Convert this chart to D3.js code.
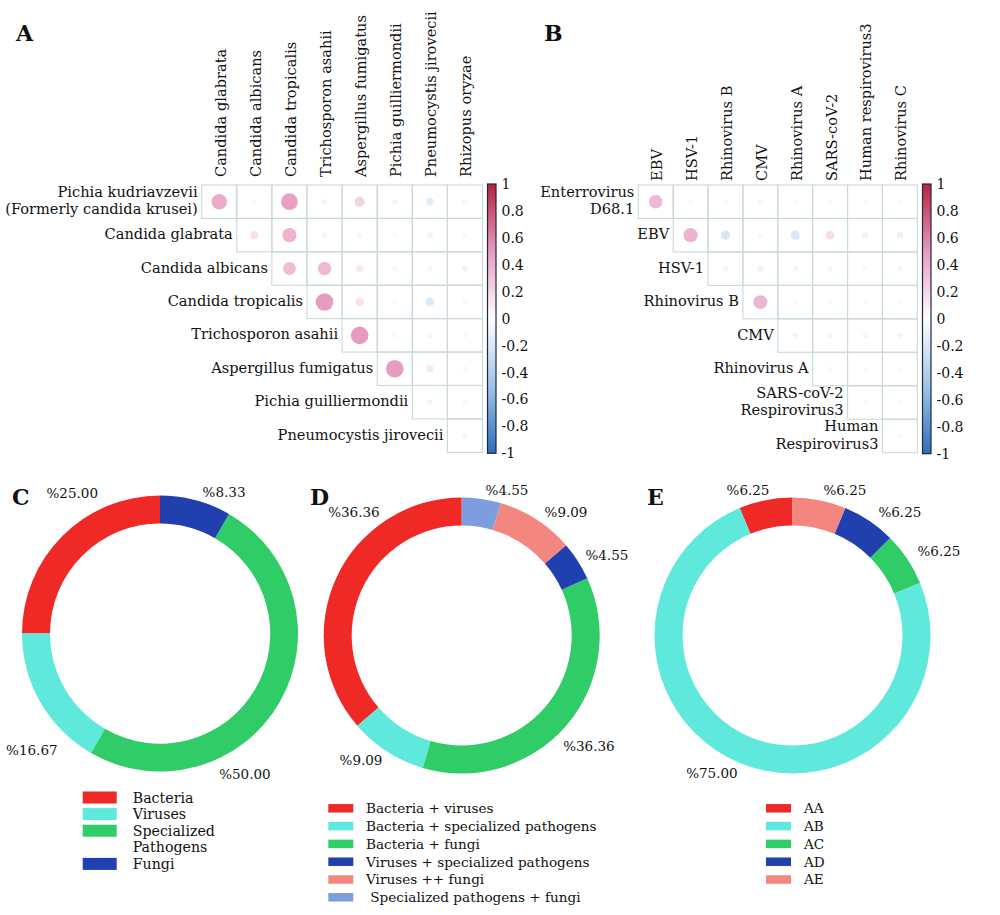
<!DOCTYPE html>
<html><head><meta charset="utf-8">
<script src="https://cdn.jsdelivr.net/npm/d3@7"></script>
<style>
body{margin:0;background:#fff}
svg{display:block}
text{font-family:"DejaVu Serif",serif;fill:#111}
</style>
</head><body>
<svg id="chart" width="1000" height="915"></svg>
<script>
// ---------------- DATA ----------------
const fungiRows = ["Pichia kudriavzevii\n(Formerly candida krusei)","Candida glabrata","Candida albicans","Candida tropicalis","Trichosporon asahii","Aspergillus fumigatus","Pichia guilliermondii","Pneumocystis jirovecii"];
const fungiCols = ["Candida glabrata","Candida albicans","Candida tropicalis","Trichosporon asahii","Aspergillus fumigatus","Pichia guilliermondii","Pneumocystis jirovecii","Rhizopus oryzae"];
// row i holds the values for columns i..7
const fungiCorr = [
  [0.42, 0.05, 0.47, 0.07, 0.22, 0.06, -0.15, 0.06],
  [0.16, 0.38, 0.06, 0.06, 0.05, -0.09, 0.05],
  [0.33, 0.35, 0.12, -0.07, 0.06, -0.09],
  [0.50, 0.16, 0.05, -0.18, 0.05],
  [0.50, 0.05, 0.06, 0.05],
  [0.50, 0.12, 0.05],
  [0.07, 0.05],
  [0.06]
];
const virusRows = ["Enterrovirus\nD68.1","EBV","HSV-1","Rhinovirus B","CMV","Rhinovirus A","SARS-coV-2\nRespirovirus3","Human\nRespirovirus3"];
const virusCols = ["EBV","HSV-1","Rhinovirus B","CMV","Rhinovirus A","SARS-coV-2","Human respirovirus3","Rhinovirus C"];
const virusCorr = [
  [0.36, 0.05, 0.04, 0.06, 0.04, 0.04, 0.04, 0.04],
  [0.38, -0.2, 0.05, -0.2, 0.18, -0.1, -0.1],
  [0.06, 0.09, 0.06, 0.06, 0.05, 0.06],
  [0.37, 0.05, 0.04, 0.04, 0.04],
  [0.07, 0.07, 0.06, 0.07],
  [0.05, 0.04, 0.04],
  [0.04, 0.04],
  [0.04]
];
const colorbarTicks = [1, 0.8, 0.6, 0.4, 0.2, 0, -0.2, -0.4, -0.6, -0.8, -1];

const groupLabels = ["Bacteria","Viruses","Specialized\nPathogens","Fungi"];
const groupValues = [25.00, 16.67, 50.00, 8.33];
const comboLabels = ["Bacteria + viruses","Bacteria + specialized pathogens","Bacteria + fungi","Viruses + specialized pathogens","Viruses ++ fungi"," Specialized pathogens + fungi"];
const comboValues = [36.36, 9.09, 36.36, 4.55, 9.09, 4.55];
const patternLabels = ["AA","AB","AC","AD","AE"];
const patternValues = [6.25, 75.00, 6.25, 6.25, 6.25];

// ---------------- STYLE / LAYOUT ----------------
const RED="#ef2a26", CYAN="#5fe8dc", GREEN="#30cc67", BLUE="#1f40ae", SALMON="#f3877f", LBLUE="#7e9ddf";
const corrColor = d3.scaleLinear().domain([-1,-0.5,0,0.5,1])
  .range(["#2f6cbd","#9fc4e6","#ffffff","#e79bc0","#b9223f"]);
const svg = d3.select("#chart");

function corrPanel(o){
  const g = svg.append("g");
  const x = d3.scaleBand().domain(o.cols).range(o.xr);
  const y = d3.scaleBand().domain(o.rows).range(o.yr);
  const r = d3.scaleLinear().domain([0,1]).range([1.8, 15.8]);
  const cells = [];
  o.values.forEach((row,i)=>row.forEach((v,k)=>cells.push({ri:i, ci:i+k, v})));
  g.selectAll("rect.cell").data(cells).join("rect")
    .attr("x", d=>x(o.cols[d.ci])).attr("y", d=>y(o.rows[d.ri]))
    .attr("width", x.bandwidth()).attr("height", y.bandwidth())
    .attr("fill","none").attr("stroke","#c9d9d8").attr("stroke-width",1.1);
  g.selectAll("circle").data(cells).join("circle")
    .attr("cx", d=>x(o.cols[d.ci])+x.bandwidth()/2)
    .attr("cy", d=>y(o.rows[d.ri])+y.bandwidth()/2)
    .attr("r", d=>r(Math.abs(d.v)))
    .attr("fill", d=>corrColor(d.v));
  // column labels
  g.selectAll("text.col").data(o.cols).join("text")
    .attr("transform", d=>`translate(${x(d)+x.bandwidth()/2+1},${o.colY}) rotate(-90)`)
    .attr("dominant-baseline","central").attr("font-size",14.6).text(d=>d);
  // row labels
  o.rows.forEach((lab,i)=>{
    const lines = lab.split("\n");
    const t = g.append("text").attr("text-anchor","end").attr("font-size",14.6)
      .attr("x", x(o.cols[i]) - 4)
      .attr("y", y(lab)+y.bandwidth()/2 - (lines.length-1)*17.5/2 - 2)
      .attr("dominant-baseline","central");
    lines.forEach((ln,j)=>t.append("tspan").attr("x", x(o.cols[i]) - 4).attr("dy", j?17.5:0).text(ln));
  });
  // colorbar
  const cb = d3.scaleLinear().domain([-1,1]).range([o.yr[1]+1, o.yr[0]-1]);
  const gid = "grad"+o.id;
  const grad = svg.append("defs").append("linearGradient").attr("id",gid)
    .attr("x1",0).attr("y1",1).attr("x2",0).attr("y2",0);
  d3.range(-1,1.001,0.1).forEach(v=>grad.append("stop")
    .attr("offset", (v+1)/2).attr("stop-color", corrColor(v)));
  g.append("rect").attr("x",o.cbx).attr("y",cb(1)).attr("width",8.5).attr("height",cb(-1)-cb(1))
    .attr("fill",`url(#${gid})`).attr("stroke","#1c2b3c").attr("stroke-width",1.2);
  g.selectAll("text.tick").data(colorbarTicks).join("text")
    .attr("x",o.cbx+14).attr("y",d=>cb(d)).attr("dominant-baseline","central")
    .attr("font-size",14).text(d=>d);
  g.append("text").attr("x",o.letter[0]).attr("y",o.letter[1]).attr("font-size",22)
    .attr("font-weight","bold").attr("font-family","Liberation Serif, serif").text(o.id);
}

corrPanel({id:"A", rows:fungiRows, cols:fungiCols, values:fungiCorr,
  xr:[201.7,482.5], yr:[185,452.3], colY:177, cbx:487.5, letter:[16,41]});
corrPanel({id:"B", rows:virusRows, cols:virusCols, values:virusCorr,
  xr:[638.3,917.3], yr:[185,452.7], colY:181, cbx:922.5, letter:[544,41]});

function donut(o){
  const g = svg.append("g").attr("transform",`translate(${o.c[0]},${o.c[1]})`);
  const pie = d3.pie().sort(null).startAngle(0).endAngle(-2*Math.PI);
  const arcs = pie(o.values);
  const arc = d3.arc().innerRadius(110).outerRadius(138);
  g.selectAll("path").data(arcs).join("path").attr("d",arc)
    .attr("fill",(d,i)=>o.colors[i]);
  g.selectAll("text.pct").data(arcs).join("text")
    .attr("x",(d,i)=>Math.sin(o.labelPos[i][0]*Math.PI/180)*o.labelPos[i][1])
    .attr("y",(d,i)=>-Math.cos(o.labelPos[i][0]*Math.PI/180)*o.labelPos[i][1])
    .attr("text-anchor","middle").attr("dominant-baseline","central")
    .attr("font-size",13.5).text(d=>"%"+d.data.toFixed(2));
  // legend
  const lg = svg.append("g").attr("transform",`translate(${o.leg[0]},${o.leg[1]})`);
  let row = 0;
  o.labels.forEach((lab,i)=>{
    const lines = lab.split("\n");
    const yy = row*o.legStep;
    lg.append("rect").attr("x",0).attr("y",yy-o.sw[1]/2).attr("width",o.sw[0]).attr("height",o.sw[1])
      .attr("fill",o.colors[i]);
    const t = lg.append("text").attr("x",o.legTx).attr("y",yy).attr("dominant-baseline","central")
      .attr("font-size",o.legFs).attr("xml:space","preserve");
    lines.forEach((ln,j)=>t.append("tspan").attr("x",o.legTx).attr("dy",j?o.legStep:0).text(ln));
    row += lines.length;
  });
  svg.append("text").attr("x",o.letter[0]).attr("y",o.letter[1]).attr("font-size",22)
    .attr("font-weight","bold").attr("font-family","Liberation Serif, serif").text(o.id);
}

donut({id:"C", c:[160,633.5], values:groupValues, labels:groupLabels,
  colors:[RED,CYAN,GREEN,BLUE],
  labelPos:[[-31.9,166],[-132.2,173],[148.8,164],[24.4,155]],
  leg:[82.7,797.5], sw:[34,12], legTx:50, legStep:16.6, legFs:14.2, letter:[12,505]});
donut({id:"D", c:[461.7,635.5], values:comboValues, labels:comboLabels,
  colors:[RED,CYAN,GREEN,BLUE,SALMON,LBLUE],
  labelPos:[[-41.1,164],[-141,160],[131,168.6],[61,166],[40.2,161.6],[17.3,152.4]],
  leg:[328.3,808.3], sw:[25,8.5], legTx:37.7, legStep:17.8, legFs:13.6, letter:[310,505]});
donut({id:"E", c:[792.5,635.5], values:patternValues, labels:patternLabels,
  colors:[RED,CYAN,GREEN,BLUE,SALMON],
  labelPos:[[-17,152.2],[-149.6,159.3],[60,169.1],[41,163.7],[19.8,154.7]],
  leg:[766,808.3], sw:[25,8.5], legTx:38, legStep:17.8, legFs:13.6, letter:[647,505]});
</script>
</body></html>
